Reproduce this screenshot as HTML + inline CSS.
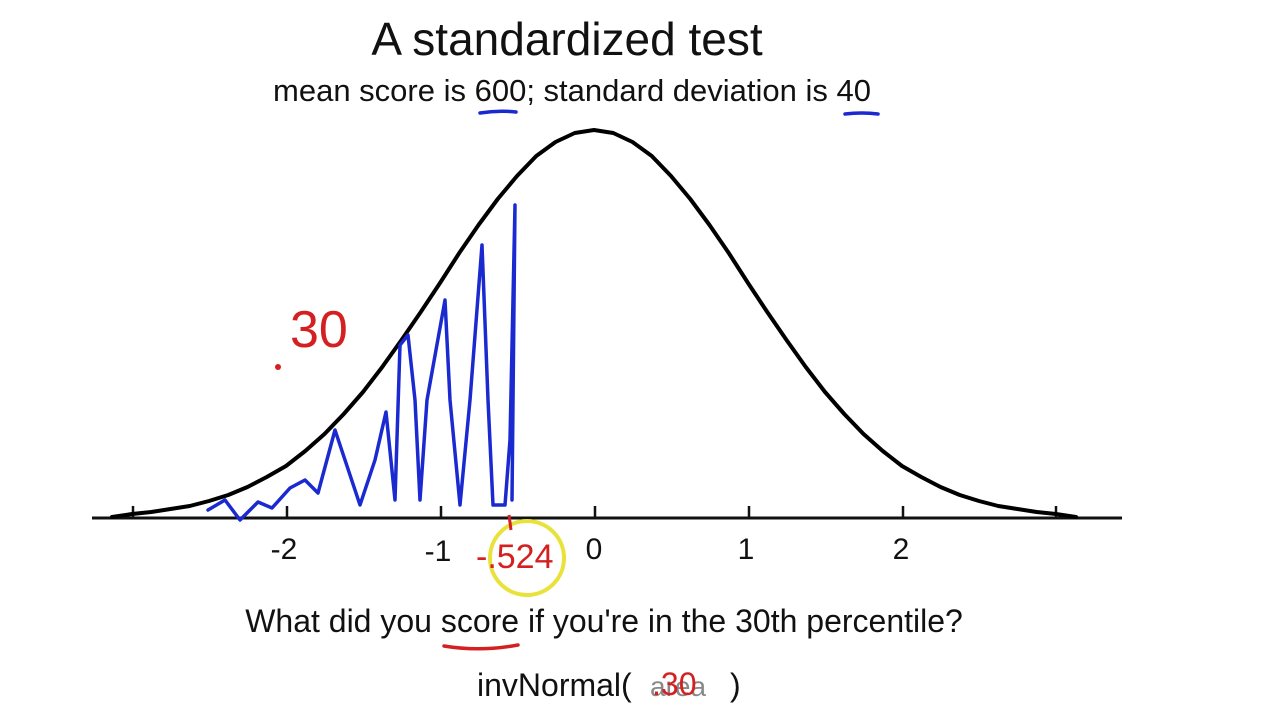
<!DOCTYPE html>
<html><head><meta charset="utf-8"><style>
html,body{margin:0;padding:0;background:#fff;}
svg{display:block;}
text{font-family:"Liberation Sans",Arial,sans-serif;}
</style></head><body>
<svg width="1280" height="720" viewBox="0 0 1280 720" xmlns="http://www.w3.org/2000/svg">
<rect width="1280" height="720" fill="#fff"/>
<text x="567" y="55" font-size="46" text-anchor="middle" fill="#111">A standardized test</text>
<text x="572" y="101" font-size="31" text-anchor="middle" fill="#111">mean score is 600; standard deviation is 40</text>
<path d="M480 113 Q498 110 516 112" stroke="#1a2ad0" stroke-width="3.5" fill="none" stroke-linecap="round"/>
<path d="M845 114 Q862 112 878 114" stroke="#1a2ad0" stroke-width="3.5" fill="none" stroke-linecap="round"/>
<line x1="92" y1="518" x2="1122" y2="518" stroke="#111" stroke-width="3"/>
<g stroke="#111" stroke-width="2.5">
<line x1="133" y1="506" x2="133" y2="518"/><line x1="287" y1="506" x2="287" y2="518"/>
<line x1="441" y1="506" x2="441" y2="518"/><line x1="595" y1="506" x2="595" y2="518"/>
<line x1="749" y1="506" x2="749" y2="518"/><line x1="903" y1="506" x2="903" y2="518"/>
<line x1="1056" y1="506" x2="1056" y2="518"/>
</g>
<g font-size="30" fill="#111" text-anchor="middle">
<text x="284" y="559">-2</text><text x="438" y="561">-1</text><text x="594" y="559">0</text>
<text x="746" y="559">1</text><text x="901" y="559">2</text>
</g>
<polyline fill="none" stroke="#000" stroke-width="4" stroke-linejoin="round" stroke-linecap="round"
points="112,517 132,514 151.25,512 170.5,509 189.75,506 209,501 228.25,495 247.5,487 266.75,477 286,466 305.25,451 324.5,434 343.75,414 363,392 382.25,367 401.5,340 420.75,312 440,283 459.25,253 478.5,225 497.75,199 517,176 536.25,156 555.5,142 574.75,133 594,130 613.25,133 632.5,142 651.75,156 671,176 690.25,199 709.5,225 728.75,253 748,283 767.25,312 786.5,340 805.75,367 825,392 844.25,414 863.5,434 882.75,451 902,466 921.25,477 940.5,487 959.75,495 979,501 998.25,506 1017.5,509 1036.75,512 1056,514 1076,517"/>
<polyline fill="none" stroke="#1a2ad0" stroke-width="3.5" stroke-linejoin="round" stroke-linecap="round"
points="208,510 225,500 240,520 258,502 272,508 290,488 305,480 318,493 335,430 345,460 360,505 375,460 386,412 395,500 400,345 408,335 415,400 420,500 427,400 445,300 450,400 460,505 470,400 482,245 488,400 493,505 505,505 510,440 515,205 512,500"/>
<text x="290" y="347" font-size="52" fill="#d42020">30</text>
<circle cx="278" cy="367" r="3" fill="#d42020"/>
<circle cx="527" cy="558" r="37" fill="none" stroke="#e8e23a" stroke-width="4"/>
<text x="476" y="568" font-size="34" fill="#d42020">-.524</text>
<line x1="509" y1="515" x2="511" y2="530" stroke="#d42020" stroke-width="3"/>
<text x="604" y="632" font-size="32" text-anchor="middle" fill="#111">What did you score if you're in the 30th percentile?</text>
<path d="M444 646 Q480 652 518 645" stroke="#d42020" stroke-width="3.5" fill="none" stroke-linecap="round"/>
<text x="477" y="696" font-size="32" fill="#111">invNormal(</text>
<text x="650" y="696" font-size="28" fill="#888">area</text>
<text x="652" y="695" font-size="32" fill="#d42020">.30</text>
<text x="730" y="696" font-size="32" fill="#111">)</text>
</svg>
</body></html>
